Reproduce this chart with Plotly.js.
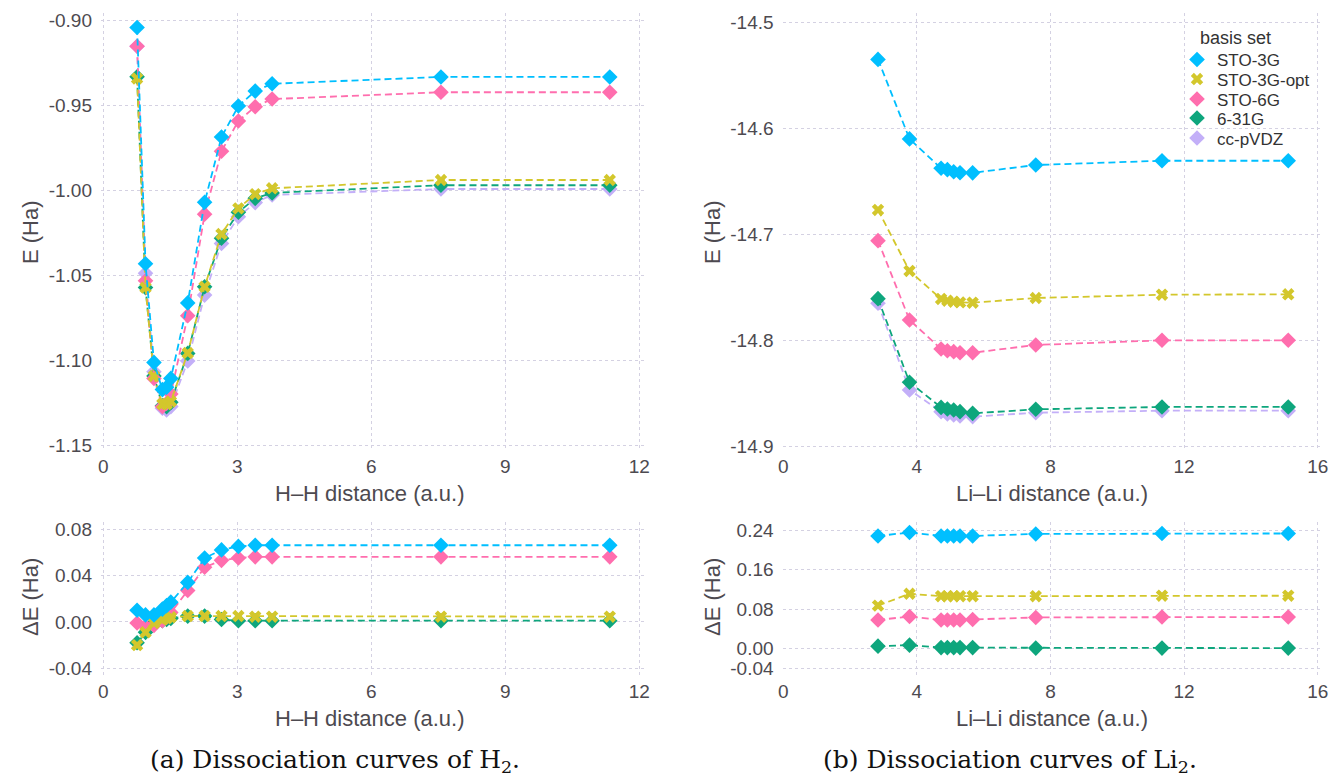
<!DOCTYPE html>
<html>
<head>
<meta charset="utf-8">
<script src="https://cdn.plot.ly/plotly-3.0.1.min.js"></script>
<style>html,body{margin:0;padding:0;background:#fff;}#chart{width:1331px;height:777px;}</style>
</head>
<body>
<div id="chart"></div>
<script>
// ---------------- data ----------------
const basisSets = ['STO-3G', 'STO-3G-opt', 'STO-6G', '6-31G', 'cc-pVDZ'];

// H2: distances (a.u.)
const xH2 = [0.756, 0.945, 1.134, 1.323, 1.417, 1.512, 1.890, 2.268, 2.646, 3.024, 3.401, 3.779, 7.559, 11.338];
const eH2_sto3g    = [-0.904, -1.043, -1.101, -1.117, -1.1156, -1.1104, -1.066, -1.0068, -0.9684, -0.9502, -0.9414, -0.9371, -0.9331, -0.9331];
const eH2_sto3gopt = [-0.934, -1.057, -1.109, -1.1255, -1.1255, -1.124, -1.0955, -1.0565, -1.0255, -1.0104, -1.002, -0.9986, -0.9937, -0.9937];
const eH2_sto6g    = [-0.915, -1.053, -1.1104, -1.127, -1.125, -1.1196, -1.0735, -1.0138, -0.9768, -0.959, -0.9506, -0.9461, -0.9421, -0.9421];
const eH2_631g     = [-0.933, -1.057, -1.109, -1.1265, -1.127, -1.1245, -1.0957, -1.0565, -1.028, -1.0127, -1.0045, -1.0013, -0.9968, -0.9968];
const eH2_ccpvdz   = [-0.915, -1.0486, -1.1065, -1.128, -1.129, -1.127, -1.1002, -1.0614, -1.031, -1.0153, -1.007, -1.0025, -0.999, -0.999];

const dH2_sto3g    = [0.010, 0.006, 0.006, 0.011, 0.014, 0.017, 0.034, 0.055, 0.062, 0.065, 0.066, 0.066, 0.066, 0.066];
const dH2_sto3gopt = [-0.020, -0.009, -0.001, 0.002, 0.003, 0.004, 0.005, 0.005, 0.005, 0.005, 0.0045, 0.0045, 0.0045, 0.0045];
const dH2_sto6g    = [-0.001, -0.004, -0.003, 0.001, 0.004, 0.008, 0.027, 0.047, 0.053, 0.055, 0.056, 0.056, 0.056, 0.056];
const dH2_631g     = [-0.018, -0.009, -0.001, 0.001, 0.002, 0.003, 0.005, 0.005, 0.002, 0.001, 0.001, 0.001, 0.001, 0.001];

// Li2: distances (a.u.)
const xLi2 = [2.835, 3.779, 4.724, 4.913, 5.102, 5.291, 5.669, 7.559, 11.338, 15.118];
const eLi2_sto3g    = [-14.535, -14.610, -14.6377, -14.639, -14.641, -14.6419, -14.642, -14.6346, -14.6306, -14.6306];
const eLi2_sto3gopt = [-14.677, -14.7346, -14.761, -14.7626, -14.7636, -14.7642, -14.7645, -14.7601, -14.757, -14.7566];
const eLi2_sto6g    = [-14.706, -14.7808, -14.8082, -14.8098, -14.8107, -14.8117, -14.8117, -14.8044, -14.800, -14.800];
const eLi2_631g     = [-14.7607, -14.8396, -14.8633, -14.8648, -14.8658, -14.8673, -14.8689, -14.8651, -14.8629, -14.8629];
const eLi2_ccpvdz   = [-14.7651, -14.8469, -14.8673, -14.8695, -14.8705, -14.8714, -14.872, -14.8683, -14.8664, -14.8664];

const dLi2_sto3g    = [0.228, 0.235, 0.228, 0.228, 0.228, 0.228, 0.228, 0.232, 0.233, 0.233];
const dLi2_sto3gopt = [0.087, 0.111, 0.106, 0.106, 0.106, 0.106, 0.106, 0.106, 0.107, 0.107];
const dLi2_sto6g    = [0.058, 0.065, 0.058, 0.058, 0.058, 0.058, 0.059, 0.063, 0.064, 0.064];
const dLi2_631g     = [0.005, 0.007, 0.002, 0.002, 0.002, 0.002, 0.002, 0.001, 0.001, 0.001];

// ticks
const xTicksH2 = [0, 3, 6, 9, 12];
const xTicksLi2 = [0, 4, 8, 12, 16];
const yTicksEH2 = [-1.15, -1.10, -1.05, -1.00, -0.95, -0.90];
const yTextEH2 = ['-1.15', '-1.10', '-1.05', '-1.00', '-0.95', '-0.90'];
const yTicksDH2 = [-0.04, 0.00, 0.04, 0.08];
const yTextDH2 = ['-0.04', '0.00', '0.04', '0.08'];
const yTicksELi2 = [-14.9, -14.8, -14.7, -14.6, -14.5];
const yTextELi2 = ['-14.9', '-14.8', '-14.7', '-14.6', '-14.5'];
const yTicksDLi2 = [-0.04, 0.00, 0.08, 0.16, 0.24];
const yTextDLi2 = ['-0.04', '0.00', '0.08', '0.16', '0.24'];

// ---------------- styling ----------------
const colors = ['#00BFFF', '#D3C72C', '#FF6EAE', '#0EA67D', '#C3AFF8'];
const symbols = ['diamond', 'x', 'diamond', 'diamond', 'diamond'];
const msize = [12, 11, 12, 12, 12];

const W = 1331, H = 777;
const fx = v => v / W;
const fy = v => 1 - v / H;

const eH2 = [eH2_sto3g, eH2_sto3gopt, eH2_sto6g, eH2_631g, eH2_ccpvdz];
const dH2 = [dH2_sto3g, dH2_sto3gopt, dH2_sto6g, dH2_631g];
const eLi2 = [eLi2_sto3g, eLi2_sto3gopt, eLi2_sto6g, eLi2_631g, eLi2_ccpvdz];
const dLi2 = [dLi2_sto3g, dLi2_sto3gopt, dLi2_sto6g, dLi2_631g];

const legendIds = ['legend', 'legend2', 'legend3', 'legend4', 'legend5'];

const traces = [];
function addSeries(xs, ys, i, xa, ya, legend) {
  traces.push({
    type: 'scatter', mode: 'lines', x: xs, y: ys, xaxis: xa, yaxis: ya,
    line: {color: colors[i], width: 1.8, dash: '7px,4px'},
    showlegend: false, hoverinfo: 'skip'
  });
  traces.push({
    type: 'scatter', mode: 'markers', x: xs, y: ys, xaxis: xa, yaxis: ya,
    name: basisSets[i], legend: legendIds[i],
    marker: {color: colors[i], symbol: symbols[i], size: msize[i], line: {width: 0}},
    showlegend: legend
  });
}
// draw later series first so that STO-3G is on top
for (let i = 4; i >= 0; i--) addSeries(xH2, eH2[i], i, 'x', 'y', false);
for (let i = 3; i >= 0; i--) addSeries(xH2, dH2[i], i, 'x2', 'y2', false);
for (let i = 4; i >= 0; i--) addSeries(xLi2, eLi2[i], i, 'x3', 'y3', true);
for (let i = 3; i >= 0; i--) addSeries(xLi2, dLi2[i], i, 'x4', 'y4', false);

const tickFont = {family: 'Liberation Sans, Arial, sans-serif', size: 19, color: '#4d4a50'};
const gridStyle = {gridcolor: '#D4D1E2', griddash: 'dot', gridwidth: 1, showline: false, zeroline: false,
  ticks: '', tickfont: tickFont};

function xax(domain, range, ticks, anchor) {
  return Object.assign({}, gridStyle, {domain: domain, range: range, tickvals: ticks, ticktext: ticks.map(String),
    anchor: anchor, ticklabelstandoff: 3});
}
function yax(domain, range, ticks, text, anchor) {
  return Object.assign({}, gridStyle, {domain: domain, range: range, tickvals: ticks, ticktext: text,
    anchor: anchor, ticklabelstandoff: 8});
}

const leftX = [fx(101), fx(645.6)];
const rightX = [fx(782.6), fx(1323.3)];
const topY = [fy(450), fy(13)];
const botY = [fy(675), fy(522)];

const titleFont = {family: 'Liberation Sans, Arial, sans-serif', size: 22, color: '#4d4a50'};
const capFont = {family: 'DejaVu Serif, serif', size: 25, color: '#111'};

function ann(text, x, y, font, rot) {
  return {text: text, x: fx(x), y: fy(y), xref: 'paper', yref: 'paper', showarrow: false,
    xanchor: 'center', yanchor: 'middle', font: font, textangle: rot || 0};
}

const legendRowsY = [60, 79.5, 99.5, 118.5, 138.5];
function legendAt(yPix) {
  return {x: fx(1177), y: fy(yPix), xanchor: 'left', yanchor: 'middle', bgcolor: 'rgba(0,0,0,0)',
    font: {family: 'Liberation Sans, Arial, sans-serif', size: 17, color: '#333'},
    itemwidth: 30, borderwidth: 0};
}

const layout = {
  width: W, height: H,
  margin: {l: 0, r: 0, t: 0, b: 0},
  paper_bgcolor: '#ffffff', plot_bgcolor: 'rgba(0,0,0,0)',
  xaxis: xax(leftX, [-0.0515, 12.14], xTicksH2, 'y'),
  yaxis: yax(topY, [-1.15253, -0.89547], yTicksEH2, yTextEH2, 'x'),
  xaxis2: xax(leftX, [-0.0515, 12.14], xTicksH2, 'y2'),
  yaxis2: yax(botY, [-0.04575, 0.08603], yTicksDH2, yTextDH2, 'x2'),
  xaxis3: xax(rightX, [-0.021, 16.168], xTicksLi2, 'y3'),
  yaxis3: yax(topY, [-14.9035, -14.4912], yTicksELi2, yTextELi2, 'x3'),
  xaxis4: xax(rightX, [-0.021, 16.168], xTicksLi2, 'y4'),
  yaxis4: yax(botY, [-0.0534, 0.2562], yTicksDLi2, yTextDLi2, 'x4'),
  showlegend: true,
  legend: legendAt(legendRowsY[0]),
  legend2: legendAt(legendRowsY[1]),
  legend3: legendAt(legendRowsY[2]),
  legend4: legendAt(legendRowsY[3]),
  legend5: legendAt(legendRowsY[4]),
  annotations: [
    ann('basis set', 1235, 38, {family: 'Liberation Sans, Arial, sans-serif', size: 18, color: '#333'}),
    ann('E (Ha)', 30, 232, titleFont, -90),
    ann('H\u2013H distance (a.u.)', 370, 493, titleFont),
    ann('\u0394E (Ha)', 30, 597, titleFont, -90),
    ann('H\u2013H distance (a.u.)', 370, 718, titleFont),
    ann('E (Ha)', 712, 232, titleFont, -90),
    ann('Li\u2013Li distance (a.u.)', 1052, 493, titleFont),
    ann('\u0394E (Ha)', 712, 597, titleFont, -90),
    ann('Li\u2013Li distance (a.u.)', 1052, 718, titleFont),
    ann('(a) Dissociation curves of H<sub>2</sub>.', 335, 761, capFont),
    ann('(b) Dissociation curves of Li<sub>2</sub>.', 1010, 761, capFont)
  ]
};

Plotly.newPlot('chart', traces, layout, {staticPlot: true, displayModeBar: false});
</script>
</body>
</html>
